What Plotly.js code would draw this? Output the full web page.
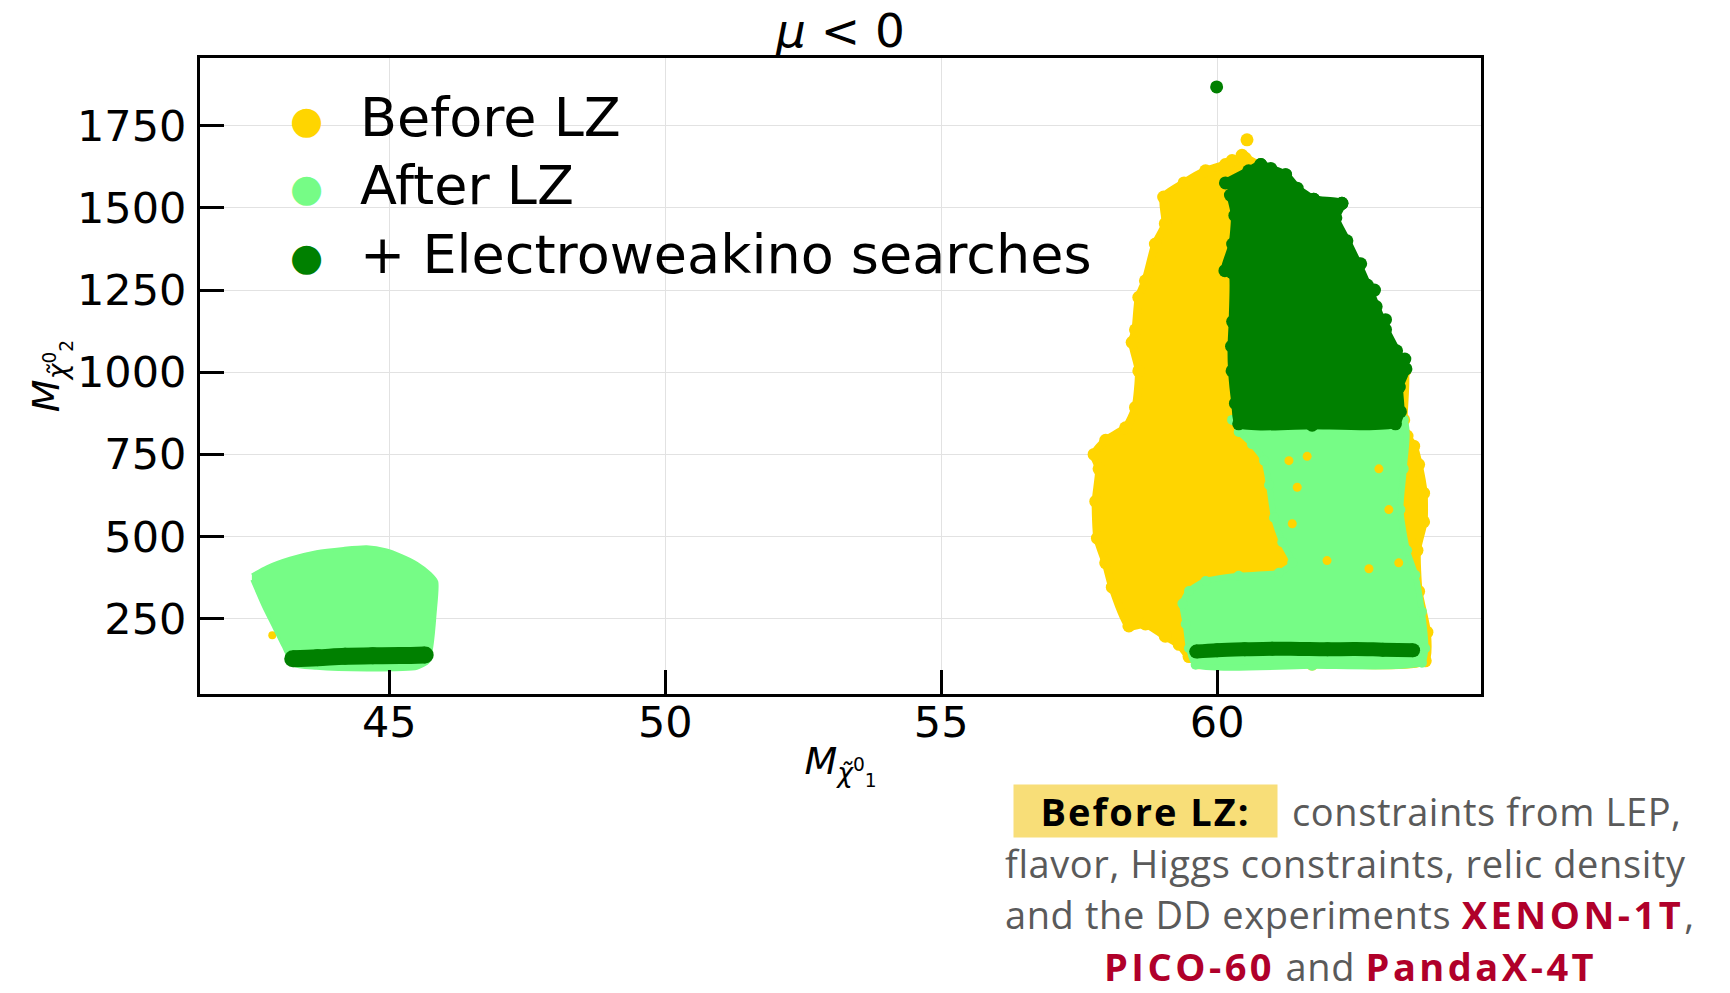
<!DOCTYPE html>
<html><head><meta charset="utf-8">
<script src="https://cdn.plot.ly/plotly-3.0.1.min.js"></script>
<style>html,body{margin:0;padding:0;background:#fff;}</style>
</head><body>
<div id="chart" style="width:1730px;height:993px;"></div>
<script>
// ---------------- data ----------------
const xTickVals = [45, 50, 55, 60];
const yTickVals = [250, 500, 750, 1000, 1250, 1500, 1750];

const seriesNames = ["Before LZ", "After LZ", "+ Electroweakino searches"];

// Before LZ: outline of the right cluster
const beforeOutlineX = [60.15, 59.79, 59.40, 59.03, 59.06, 58.88, 58.70, 58.58, 58.52, 58.46, 58.58, 58.52, 58.34, 57.98, 57.77, 57.86, 57.80, 57.83, 57.98, 58.10, 58.40, 58.70, 59.06, 59.31, 59.49, 59.67, 61.72, 63.77, 63.80, 63.65, 63.62, 63.74, 63.74, 63.65, 63.56, 63.44, 63.38, 63.40, 63.18, 62.96, 62.64, 62.44, 62.24, 62.00, 61.50, 61.12, 60.79, 60.51, 60.27];
const beforeOutlineY = [1632, 1613, 1576, 1533, 1452, 1390, 1278, 1228, 1129, 1091, 1004, 893, 831, 793, 750, 706, 607, 495, 420, 346, 228, 234, 197, 172, 135, 116, 112, 122, 209, 333, 458, 545, 632, 719, 775, 806, 855, 1004, 1060, 1130, 1265, 1330, 1400, 1460, 1530, 1588, 1626, 1651, 1644];
// Before LZ: isolated points
const beforePointsX = [60.54, 60.45, 42.88, 61.63, 61.30, 61.45, 61.36, 61.99, 62.75, 63.29, 62.93, 63.11];
const beforePointsY = [1707, 1660, 200, 744, 731, 650, 539, 427, 402, 420, 706, 582];

// After LZ: right cluster outline
const afterRightX = [60.27, 63.38, 63.38, 63.32, 63.44, 63.59, 63.71, 63.77, 63.71, 61.72, 59.61, 59.49, 59.43, 59.37, 59.49, 59.79, 60.39, 61.12, 61.36, 61.18, 61.03, 60.94, 60.85, 60.63, 60.39];
const afterRightY = [855, 855, 706, 582, 458, 383, 271, 160, 116, 107, 110, 160, 234, 296, 334, 365, 381, 390, 420, 483, 557, 657, 731, 781, 818];
// After LZ: left cluster outline
const afterLeftX = [42.51, 42.78, 43.20, 43.68, 44.17, 44.59, 44.95, 45.19, 45.50, 45.74, 45.86, 45.83, 45.77, 45.71, 45.50, 44.59, 43.68, 43.26, 43.08, 42.90, 42.72, 42.51];
const afterLeftY = [383, 408, 434, 454, 464, 469, 459, 444, 419, 388, 363, 266, 165, 119, 99, 94, 99, 109, 165, 226, 287, 368];

// + Electroweakino searches: upper right region outline
const ewkRegionX = [60.15, 60.57, 60.79, 60.97, 61.24, 61.45, 61.75, 62.26, 62.15, 62.35, 62.55, 62.72, 62.88, 63.05, 63.25, 63.42, 63.30, 63.32, 63.23, 61.72, 60.39, 60.33, 60.27, 60.26, 60.28, 60.27, 60.14, 60.28, 60.32, 60.24];
const ewkRegionY = [1576, 1613, 1632, 1620, 1601, 1560, 1526, 1514, 1470, 1400, 1330, 1265, 1200, 1130, 1065, 1010, 955, 880, 843, 839, 843, 905, 1004, 1079, 1154, 1303, 1309, 1390, 1477, 1539];
// + Electroweakino searches: low-mass bands
const ewkBandRightX = [59.62, 60.0, 60.5, 61.0, 61.5, 62.0, 62.5, 63.0, 63.55];
const ewkBandRightY = [150, 154, 157, 159, 158, 157, 158, 156, 154];
const ewkBandLeftX = [43.25, 43.7, 44.2, 44.7, 45.2, 45.65];
const ewkBandLeftY = [128, 131, 136, 137, 138, 140];
// + Electroweakino searches: isolated points
const ewkPointsX = [59.99, 61.24, 62.26, 61.75, 60.79, 62.60, 62.85, 63.05, 63.40];
const ewkPointsY = [1868, 1601, 1514, 1526, 1632, 1330, 1250, 1160, 1040];

// ---------------- styling ----------------
const cYellow = "#FFD500";
const cLight = "#76FC86";
const cDark = "#008000";

function poly(x, y, color, lw, ms, name) {
  return {type: "scatter", x: x, y: y, mode: ms ? "lines+markers" : "lines",
    fill: "toself", fillcolor: color, name: name, showlegend: false, hoverinfo: "skip",
    line: {color: color, width: lw, shape: "spline", smoothing: 0.6},
    marker: {color: color, size: ms || 1}};
}
function pts(x, y, color, size, name) {
  return {type: "scatter", x: x, y: y, mode: "markers", name: name, showlegend: false,
    marker: {color: color, size: size, line: {width: 0}}};
}
function band(x, y, color, w, name) {
  return {type: "scatter", x: x, y: y, mode: "lines+markers", name: name, showlegend: false,
    line: {color: color, width: w, shape: "spline"}, marker: {color: color, size: w}};
}

const traces = [
  poly(beforeOutlineX, beforeOutlineY, cYellow, 8, 13, seriesNames[0]),
  pts(beforePointsX.slice(0, 2), beforePointsY.slice(0, 2), cYellow, 13, seriesNames[0]),
  pts(beforePointsX.slice(2, 3), beforePointsY.slice(2, 3), cYellow, 8, seriesNames[0]),
  poly(afterRightX, afterRightY, cLight, 6, 10, seriesNames[1]),
  poly(afterLeftX, afterLeftY, cLight, 3, 0, seriesNames[1]),
  pts(beforePointsX.slice(3), beforePointsY.slice(3), cYellow, 9, seriesNames[0]),
  poly(ewkRegionX, ewkRegionY, cDark, 8, 13, seriesNames[2]),
  band(ewkBandRightX, ewkBandRightY, cDark, 14, seriesNames[2]),
  band(ewkBandLeftX, ewkBandLeftY, cDark, 17, seriesNames[2]),
  pts(ewkPointsX, ewkPointsY, cDark, 13, seriesNames[2])
];

// pixel helpers for layout text placement
const M = {l: 200, r: 249, t: 58, b: 299};
const W = 1730, H = 993;
const PW = W - M.l - M.r, PH = H - M.t - M.b;
const px = v => (v - M.l) / PW;
const py = v => (H - M.b - v) / PH;

const legendColors = [cYellow, cLight, cDark];
const legendRowsY = [120, 188, 257];
const annotations = [];
seriesNames.forEach((n, i) => {
  annotations.push({xref: "paper", yref: "paper", x: px(306), y: py(legendRowsY[i]), xanchor: "center", yanchor: "middle",
    text: "●", showarrow: false, font: {family: "DejaVu Sans", size: 38, color: legendColors[i]}});
  annotations.push({xref: "paper", yref: "paper", x: px(358), y: py(legendRowsY[i] - 3), xanchor: "left", yanchor: "middle",
    text: n, showarrow: false, font: {family: "DejaVu Sans", size: 54, color: "#000"}});
});

const gray = "#5a5a5a", red = "#B0002A";
const redBold = t => "<b><span style='color:" + red + ";letter-spacing:3.5px'>" + t + "</span></b>";
const grayText = t => "<span style='letter-spacing:0.6px'>" + t + "</span>";
const noteFont = {family: "'Open Sans', Lato, sans-serif", size: 38, color: gray};
const note = (x, y, anchor, text) => ({xref: "paper", yref: "paper", x: px(x), y: py(y), xanchor: anchor, yanchor: "middle",
  text: text, showarrow: false, borderpad: 0, font: noteFont});
annotations.push({xref: "paper", yref: "paper", x: px(1278), y: py(811), xanchor: "right", yanchor: "middle",
  text: "<b><span style='letter-spacing:2px'>Before LZ:</span></b>", showarrow: false, width: 263, height: 52, borderpad: 0,
  align: "center", valign: "middle", bgcolor: "#F8DE78", font: {family: "'Open Sans', sans-serif", size: 38, color: "#000"}});
annotations.push(note(1291, 811, "left", grayText("constraints from LEP,")));
annotations.push(note(1345, 863, "center", grayText("flavor, Higgs constraints, relic density")));
annotations.push(note(1349, 914, "center", grayText("and the DD experiments ") + redBold("XENON-1T") + ","));
annotations.push(note(1350, 966, "center", redBold("PICO-60") + grayText(" and ") + redBold("PandaX-4T")));

const axisCommon = {
  showline: true, mirror: true, linecolor: "#000", linewidth: 3,
  ticks: "inside", ticklen: 24, tickwidth: 3, tickcolor: "#000",
  showgrid: true, gridcolor: "#e2e2e2", gridwidth: 1, zeroline: false,
  tickfont: {family: "DejaVu Sans", size: 43, color: "#000"}
};

const layout = {
  width: W, height: H, margin: M, paper_bgcolor: "#fff", plot_bgcolor: "#fff",
  showlegend: false,
  title: {text: "<i>μ</i> &lt; 0", x: 0.5, xref: "paper", xanchor: "center", y: 1 - 31 / H, yref: "container", yanchor: "middle",
    font: {family: "DejaVu Sans", size: 47, color: "#000"}},
  xaxis: Object.assign({}, axisCommon, {range: [41.57, 64.78], tickvals: xTickVals, ticktext: xTickVals.map(String),
    ticklabelstandoff: -12,
    title: {text: "<i>M</i><sub><i>χ̃</i><sup>0</sup><sub>1</sub></sub>", font: {family: "DejaVu Sans", size: 38, color: "#000"}, standoff: 2}}),
  yaxis: Object.assign({}, axisCommon, {range: [21, 1956], tickvals: yTickVals, ticktext: yTickVals.map(String),
    ticklabelstandoff: 2,
    title: {text: "<i>M</i><sub><i>χ̃</i><sup>0</sup><sub>2</sub></sub>", font: {family: "DejaVu Sans", size: 38, color: "#000"}, standoff: 0}}),
  annotations: annotations
};

Plotly.newPlot("chart", traces, layout, {displayModeBar: false, staticPlot: true});
</script>
</body></html>
